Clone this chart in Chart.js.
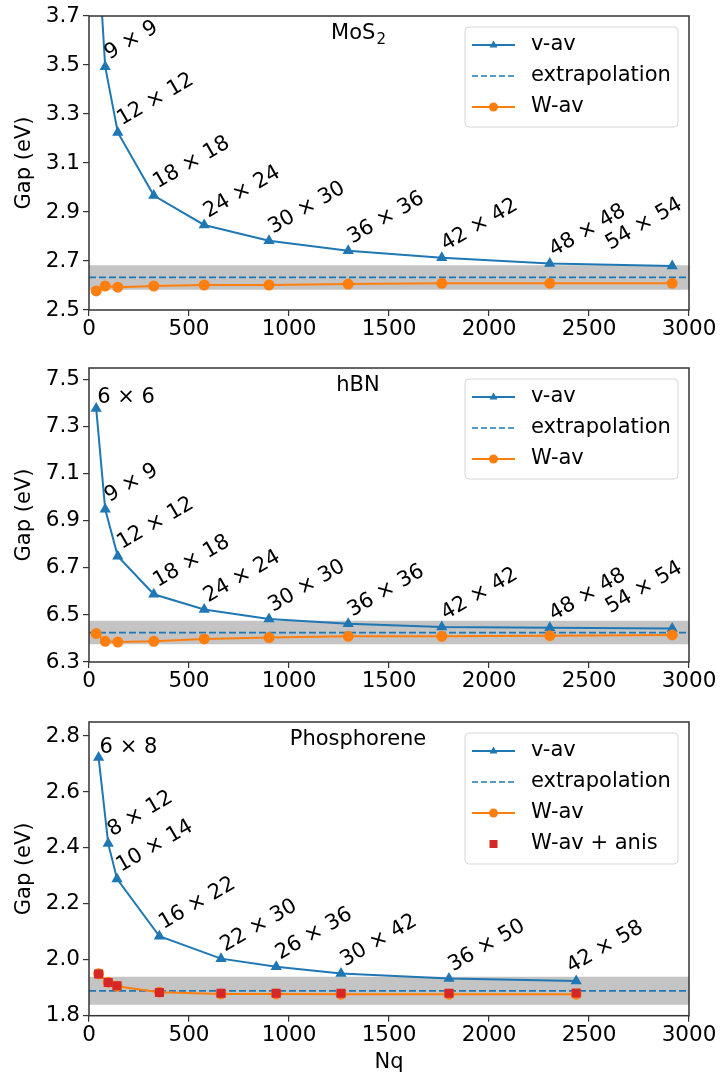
<!DOCTYPE html>
<html>
<head>
<meta charset="utf-8">
<script src="https://cdn.jsdelivr.net/npm/chart.js@4.4.0/dist/chart.umd.min.js"></script>
<style>
  body { margin: 0; background: #fff; }
  canvas { position: absolute; left: 0; }
</style>
</head>
<body>
<canvas id="mos2" width="720" height="345" style="top:0px"></canvas>
<canvas id="hbn" width="720" height="345" style="top:345px"></canvas>
<canvas id="phos" width="720" height="387" style="top:690px"></canvas>
<script>
// q-point grids and gaps (eV)
const nqMoS2 = [36, 81, 144, 324, 576, 900, 1296, 1764, 2304, 2916]
const gridMoS2 = ['6 × 6', '9 × 9', '12 × 12', '18 × 18', '24 × 24', '30 × 30', '36 × 36', '42 × 42', '48 × 48', '54 × 54']
const vavMoS2 = [4.10, 3.493, 3.225, 2.967, 2.847, 2.783, 2.742, 2.713, 2.690, 2.680]
const wavMoS2 = [2.578, 2.598, 2.593, 2.598, 2.602, 2.602, 2.606, 2.609, 2.609, 2.609]
const extrapMoS2 = 2.633
const yTicksMoS2 = [2.5, 2.7, 2.9, 3.1, 3.3, 3.5, 3.7]

const nqHBN = [36, 81, 144, 324, 576, 900, 1296, 1764, 2304, 2916]
const gridHBN = ['6 × 6', '9 × 9', '12 × 12', '18 × 18', '24 × 24', '30 × 30', '36 × 36', '42 × 42', '48 × 48', '54 × 54']
const vavHBN = [7.378, 6.949, 6.750, 6.588, 6.523, 6.483, 6.463, 6.449, 6.446, 6.442]
const wavHBN = [6.421, 6.388, 6.385, 6.388, 6.398, 6.404, 6.409, 6.409, 6.412, 6.415]
const extrapHBN = 6.425
const yTicksHBN = [6.3, 6.5, 6.7, 6.9, 7.1, 7.3, 7.5]

const nqPhos = [48, 96, 140, 352, 660, 936, 1260, 1800, 2436]
const gridPhos = ['6 × 8', '8 × 12', '10 × 14', '16 × 22', '22 × 30', '26 × 36', '30 × 42', '36 × 50', '42 × 58']
const vavPhos = [2.723, 2.416, 2.289, 2.084, 2.004, 1.975, 1.951, 1.933, 1.924]
const wavPhos = [1.950, 1.920, 1.905, 1.884, 1.878, 1.878, 1.877, 1.877, 1.877]
const anisPhos = [1.949, 1.919, 1.907, 1.883, 1.880, 1.880, 1.880, 1.880, 1.881]
const extrapPhos = 1.889
const yTicksPhos = [1.8, 2.0, 2.2, 2.4, 2.6, 2.8]

const bandHalf = 0.05
const xTicks = [0, 500, 1000, 1500, 2000, 2500, 3000]

const BLUE = '#1f77b4'
const ORANGE = '#ff7f0e'
const RED = '#d62728'
const FONT = '"DejaVu Sans", sans-serif'

function drawMarker(ctx, style, x, y, color) {
    ctx.fillStyle = color
    ctx.beginPath()
    if (style === 'triangle') {
        ctx.moveTo(x, y - 4.5)
        ctx.lineTo(x + 4, y + 2.5)
        ctx.lineTo(x - 4, y + 2.5)
    } else if (style === 'circle') {
        ctx.arc(x, y, 4.5, 0, Math.PI * 2)
    } else {
        ctx.rect(x - 4, y - 4, 8, 8)
    }
    ctx.closePath()
    ctx.fill()
}

// frame, labels, grid annotations and legend for one panel
const panelDecor = {
    id: 'panelDecor',
    afterDatasetsDraw(chart, args, opts) {
        const ctx = chart.ctx
        const area = chart.chartArea
        const xs = chart.scales.x
        const ys = chart.scales.y
        ctx.save()

        ctx.strokeStyle = '#333'
        ctx.lineWidth = 1.5
        ctx.strokeRect(area.left, area.top, area.right - area.left, area.bottom - area.top)

        ctx.fillStyle = '#000'
        ctx.font = '21px ' + FONT

        // k-grid labels
        ctx.textAlign = 'left'
        ctx.textBaseline = 'alphabetic'
        opts.grids.forEach((txt, i) => {
            const v = opts.vav[i]
            if (v > ys.max) return
            const px = xs.getPixelForValue(opts.nq[i])
            const py = ys.getPixelForValue(v)
            ctx.save()
            if (i === 0) {
                ctx.translate(px + 1, py - 5)
            } else {
                const off = i === opts.grids.length - 1 ? opts.lastOffset : [4, -7]
                ctx.translate(px + off[0], py + off[1])
                ctx.rotate(-Math.PI / 6)
            }
            ctx.fillText(txt, 0, 0)
            ctx.restore()
        })

        // material name
        const ty = area.top + 18
        ctx.textBaseline = 'middle'
        const w1 = ctx.measureText(opts.title).width
        let w2 = 0
        if (opts.titleSub) {
            ctx.font = '15px ' + FONT
            w2 = ctx.measureText(opts.titleSub).width
            ctx.font = '21px ' + FONT
        }
        const tx = 358 - (w1 + w2) / 2
        ctx.fillText(opts.title, tx, ty)
        if (opts.titleSub) {
            ctx.font = '15px ' + FONT
            ctx.fillText(opts.titleSub, tx + w1 + 1, ty + 6)
            ctx.font = '21px ' + FONT
        }

        // y axis title
        ctx.save()
        ctx.translate(25, (area.top + area.bottom) / 2)
        ctx.rotate(-Math.PI / 2)
        ctx.textAlign = 'center'
        ctx.fillText('Gap (eV)', 0, 0)
        ctx.restore()

        if (opts.xTitle) {
            ctx.textAlign = 'center'
            ctx.fillText(opts.xTitle, (area.left + area.right) / 2, 373)
        }

        // legend
        const items = opts.legend
        const lx = area.right - 224
        const lt = area.top + 11
        const lh = 18 + (items.length - 1) * 31 + 20
        ctx.fillStyle = 'rgba(255,255,255,0.85)'
        ctx.strokeStyle = '#d6d6d6'
        ctx.lineWidth = 1
        ctx.beginPath()
        ctx.roundRect(lx, lt, 213, lh, 4)
        ctx.fill()
        ctx.stroke()
        items.forEach((it, i) => {
            const cy = lt + 18 + i * 31
            if (it.line) {
                ctx.strokeStyle = it.color
                ctx.lineWidth = it.dash ? 1.5 : 2
                ctx.setLineDash(it.dash ? [6, 3] : [])
                ctx.beginPath()
                ctx.moveTo(lx + 7, cy)
                ctx.lineTo(lx + 50, cy)
                ctx.stroke()
                ctx.setLineDash([])
            }
            if (it.marker) drawMarker(ctx, it.marker, lx + 28.5, cy, it.color)
            ctx.fillStyle = '#000'
            ctx.textAlign = 'left'
            ctx.textBaseline = 'middle'
            ctx.fillText(it.label, lx + 66, cy)
        })
        ctx.restore()
    }
}

function xyPairs(xs, ys) {
    return xs.map((x, i) => ({ x: x, y: ys[i] }))
}

function bandSets(e) {
    return [
        { order: 5, data: [{ x: 0, y: e + bandHalf }, { x: 3000, y: e + bandHalf }], fill: '+1', backgroundColor: '#c4c4c4', borderWidth: 0, pointRadius: 0 },
        { order: 6, data: [{ x: 0, y: e - bandHalf }, { x: 3000, y: e - bandHalf }], fill: false, borderWidth: 0, pointRadius: 0 }
    ]
}

function makePanel(id, cfg) {
    const sets = []
    if (cfg.anis) {
        sets.push({ order: 0, data: xyPairs(cfg.nq, cfg.anis), showLine: false, pointStyle: 'rect', pointRadius: 6.4, backgroundColor: RED, borderColor: RED, borderWidth: 0 })
    }
    sets.push({ order: 1, data: xyPairs(cfg.nq, cfg.wav), borderColor: ORANGE, backgroundColor: ORANGE, borderWidth: 2, pointStyle: 'circle', pointRadius: 4.5 })
    sets.push({ order: 2, data: xyPairs(cfg.nq, cfg.vav), borderColor: BLUE, backgroundColor: BLUE, borderWidth: 2, pointStyle: 'triangle', pointRadius: 4.5 })
    sets.push({ order: 3, data: [{ x: 0, y: cfg.extrap }, { x: 3000, y: cfg.extrap }], borderColor: BLUE, borderWidth: 1.8, borderDash: [7, 3], pointRadius: 0 })
    bandSets(cfg.extrap).forEach(s => sets.push(s))

    const legend = [
        { label: 'v-av', line: true, marker: 'triangle', color: BLUE },
        { label: 'extrapolation', line: true, dash: true, color: BLUE },
        { label: 'W-av', line: true, marker: 'circle', color: ORANGE }
    ]
    if (cfg.anis) legend.push({ label: 'W-av + anis', marker: 'square', color: RED })

    const tickFont = { family: FONT, size: 21.5 }
    new Chart(document.getElementById(id), {
        type: 'line',
        data: { datasets: sets },
        options: {
            responsive: false,
            animation: false,
            devicePixelRatio: 1,
            layout: { padding: { left: 0, right: 31, top: cfg.top, bottom: 0 } },
            plugins: {
                legend: { display: false },
                tooltip: { enabled: false },
                panelDecor: {
                    nq: cfg.nq, vav: cfg.vav, grids: cfg.grids, lastOffset: cfg.lastOffset,
                    title: cfg.title, titleSub: cfg.titleSub, xTitle: cfg.xTitle, legend: legend
                }
            },
            elements: { line: { tension: 0 } },
            scales: {
                x: {
                    type: 'linear', min: 0, max: 3000,
                    afterBuildTicks: s => { s.ticks = xTicks.map(v => ({ value: v })) },
                    afterFit: s => { s.height = cfg.xHeight },
                    grid: { drawOnChartArea: false, tickLength: 6, color: '#333', lineWidth: 1.2 },
                    border: { display: false },
                    ticks: { color: '#000', font: tickFont, padding: 1, maxRotation: 0, callback: v => String(v) }
                },
                y: {
                    min: cfg.yMin, max: cfg.yMax,
                    afterBuildTicks: s => { s.ticks = cfg.yTicks.map(v => ({ value: v })) },
                    afterFit: s => { s.width = 89 },
                    grid: { drawOnChartArea: false, tickLength: 6, color: '#333', lineWidth: 1.2 },
                    border: { display: false },
                    ticks: { color: '#000', font: tickFont, padding: 3, callback: v => v.toFixed(1) }
                }
            }
        },
        plugins: [panelDecor]
    })
}

makePanel('mos2', {
    nq: nqMoS2, grids: gridMoS2, vav: vavMoS2, wav: wavMoS2, extrap: extrapMoS2,
    yMin: 2.5, yMax: 3.7, yTicks: yTicksMoS2, top: 16, xHeight: 35,
    title: 'MoS', titleSub: '2', lastOffset: [-62, -16]
})

makePanel('hbn', {
    nq: nqHBN, grids: gridHBN, vav: vavHBN, wav: wavHBN, extrap: extrapHBN,
    yMin: 6.3, yMax: 7.55, yTicks: yTicksHBN, top: 23, xHeight: 28,
    title: 'hBN', lastOffset: [-62, -15]
})

makePanel('phos', {
    nq: nqPhos, grids: gridPhos, vav: vavPhos, wav: wavPhos, anis: anisPhos, extrap: extrapPhos,
    yMin: 1.8, yMax: 2.85, yTicks: yTicksPhos, top: 32, xHeight: 61.3,
    title: 'Phosphorene', xTitle: 'Nq', lastOffset: [-5, -8]
})
</script>
</body>
</html>
